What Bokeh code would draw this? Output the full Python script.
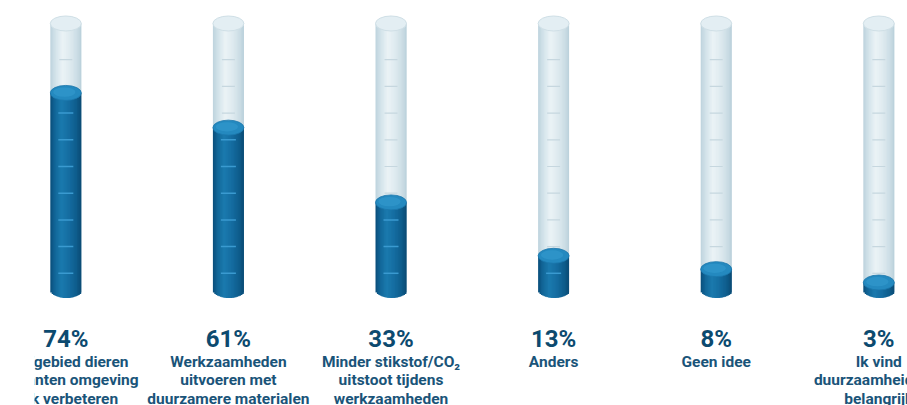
import numpy as np
from bokeh.plotting import figure
from bokeh.models import ColumnDataSource, Range1d
from bokeh.core.properties import value
from bokeh.embed import file_html
from bokeh.resources import INLINE

# ---------------- data ----------------
categories = [
    "Leefgebied dieren\nen planten omgeving\nook verbeteren",
    "Werkzaamheden\nuitvoeren met\nduurzamere materialen",
    "Minder stikstof/CO\u2082\nuitstoot tijdens\nwerkzaamheden",
    "Anders",
    "Geen idee",
    "Ik vind\nduurzaamheid niet\nbelangrijk",
]
values = [74, 61, 33, 13, 8, 3]
scale_marks = [10, 20, 30, 40, 50, 60, 70, 80, 90]
full_scale = 100

# ---------------- layout / style ----------------
W, H = 907, 405
BORDER_L = 34
X_SCALE = 162.6          # px per category
Y_SCALE = 2.67           # px per percent
X0_PX = 31.3             # frame px of first category centre
Y0_PX = 290.0            # canvas px (from top) of the 0 % level

x_start = -X0_PX / X_SCALE
x_end = x_start + (W - BORDER_L) / X_SCALE
y_end = Y0_PX / Y_SCALE
y_start = y_end - H / Y_SCALE

A_PX = 15.5              # tube half width (px)
B_PX = 7.5               # ellipse semi-minor (px)
N_STRIPS = 22
OVERLAP = 1.3

liquid_stops = [(0.0, "#0a4d79"), (0.14, "#116597"), (0.36, "#1b7aae"),
                (0.6, "#156da1"), (0.85, "#0e5c8b"), (1.0, "#0a4a74")]
glass_stops = [(0.0, "#bdd3dd"), (0.18, "#d4e4eb"), (0.4, "#ebf3f6"),
               (0.64, "#deeaef"), (0.88, "#cadce4"), (1.0, "#b9d0da")]


def hex2rgb(h):
    h = h.lstrip("#")
    return np.array([int(h[i:i + 2], 16) for i in (0, 2, 4)], dtype=float)


def interp(stops, t):
    for (t0, c0), (t1, c1) in zip(stops[:-1], stops[1:]):
        if t0 <= t <= t1:
            f = (t - t0) / (t1 - t0) if t1 > t0 else 0
            c = hex2rgb(c0) * (1 - f) + hex2rgb(c1) * f
            return "#%02x%02x%02x" % tuple(int(round(v)) for v in c)
    return stops[-1][1]


p = figure(width=W, height=H, output_backend="svg", toolbar_location=None,
           x_range=Range1d(x_start, x_end), y_range=Range1d(y_start, y_end),
           x_axis_location=None, y_axis_location=None,
           min_border_left=BORDER_L, min_border_right=0,
           min_border_top=0, min_border_bottom=0)
p.grid.visible = False
p.outline_line_color = None
p.background_fill_color = "white"
p.border_fill_color = "white"

sw = 2 * A_PX / N_STRIPS
ell_w = 2 * A_PX / X_SCALE
ell_h = 2 * B_PX / Y_SCALE

# strips for glass and liquid (drawn left to right, overlapping)
g = dict(left=[], right=[], top=[], bottom=[], color=[])
l = dict(left=[], right=[], top=[], bottom=[], color=[])
for i, v in enumerate(values):
    for k in range(N_STRIPS):
        dl = -A_PX + k * sw
        dr = min(A_PX, dl + sw + OVERLAP)
        mid = dl + sw / 2
        t = (mid + A_PX) / (2 * A_PX)
        edge = max(abs(dl), abs(dl + sw))
        curve = B_PX * np.sqrt(max(0.0, 1 - (min(edge, A_PX) / A_PX) ** 2))
        curve = max(curve, B_PX * np.sqrt(max(0.0, 1 - (mid / A_PX) ** 2)) - 0.3)
        g["left"].append(i + dl / X_SCALE)
        g["right"].append(i + dr / X_SCALE)
        g["bottom"].append(v)
        g["top"].append(full_scale)
        g["color"].append(interp(glass_stops, t))
        l["left"].append(i + dl / X_SCALE)
        l["right"].append(i + dr / X_SCALE)
        l["bottom"].append(0 - curve / Y_SCALE)
        l["top"].append(v)
        l["color"].append(interp(liquid_stops, t))

p.quad(source=ColumnDataSource(g), left="left", right="right", top="top",
       bottom="bottom", fill_color="color", line_color=None)

# tick marks
gt = dict(x0=[], x1=[], y=[])
lt = dict(x0=[], x1=[], y=[])
for i, v in enumerate(values):
    for m in scale_marks:
        ys = m - 9.5 / Y_SCALE
        if m > v:
            gt["x0"].append(i - 6.5 / X_SCALE)
            gt["x1"].append(i + 6.5 / X_SCALE)
            gt["y"].append(ys)
        elif m < v:
            lt["x0"].append(i - 7.5 / X_SCALE)
            lt["x1"].append(i + 7.5 / X_SCALE)
            lt["y"].append(ys)
p.segment(x0="x0", x1="x1", y0="y", y1="y", source=ColumnDataSource(gt),
          line_color="#c6d7df", line_width=1.2)

p.quad(source=ColumnDataSource(l), left="left", right="right", top="top",
       bottom="bottom", fill_color="color", line_color=None)

p.segment(x0="x0", x1="x1", y0="y", y1="y", source=ColumnDataSource(lt),
          line_color="#3a9ad0", line_width=1.5)

xs = list(range(len(values)))
# liquid surface
p.ellipse(x=xs, y=values, width=ell_w, height=ell_h,
          fill_color="#2489bf", line_color="#1a76ab", line_width=0.8)
p.ellipse(x=[x - 1.5 / X_SCALE for x in xs], y=[v + 0.8 / Y_SCALE for v in values],
          width=ell_w * 0.72, height=ell_h * 0.62,
          fill_color="#2f96cb", line_color=None, fill_alpha=0.8)
# glass top
p.ellipse(x=xs, y=[full_scale] * len(xs), width=ell_w, height=ell_h,
          fill_color="#e3eef3", line_color="#cfdfe6", line_width=1)

# texts
pct = ColumnDataSource(dict(x=xs, y=[0] * len(xs), t=[f"{v}%" for v in values]))
p.text(x="x", y="y", text="t", source=pct, y_offset=48.5,
       text_font=value("Roboto"), text_font_style="bold", text_font_size="24px",
       text_color="#0c4a6f", text_align="center", text_baseline="alphabetic")

lx, ly, lt_, lo = [], [], [], []
for i, c in enumerate(categories):
    for j, line in enumerate(c.split("\n")):
        lx.append(i)
        ly.append(0)
        lt_.append(line)
        lo.append(71 + j * 18.7)
lab = ColumnDataSource(dict(x=lx, y=ly, t=lt_, o=lo))
p.text(x="x", y="y", text="t", y_offset="o", source=lab,
       text_font=value("Roboto"), text_font_style="bold", text_font_size="15.5px",
       text_color="#1a5479", text_align="center", text_baseline="alphabetic")

open("out.html", "w").write(file_html(p, INLINE))
